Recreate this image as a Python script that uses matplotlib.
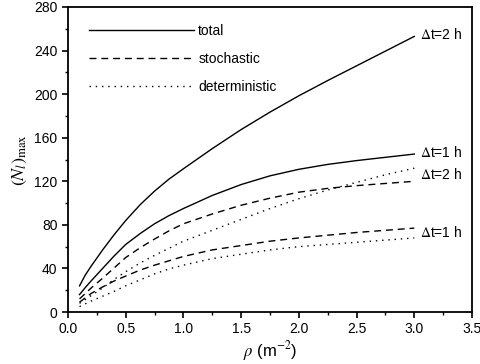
import matplotlib
matplotlib.use('Agg')
import matplotlib.pyplot as plt
from matplotlib.ticker import MultipleLocator, FormatStrFormatter

plt.rcParams['font.family'] = ['Liberation Sans', 'DejaVu Sans']
plt.rcParams['mathtext.fontset'] = 'stix'

# density values
rho = [0.1, 0.15, 0.2, 0.3, 0.4, 0.5, 0.625, 0.75, 0.875, 1.0,
       1.25, 1.5, 1.75, 2.0, 2.25, 2.5, 2.75, 3.0]

total_2h = [24, 34, 42, 57, 71, 84, 98.5, 111, 122, 131.5,
            150, 167.5, 183.5, 198.5, 212.5, 226, 239.5, 253]
total_1h = [16, 22.5, 28.5, 40, 51.5, 62, 72, 81, 88.5, 95,
            107, 117, 125, 131, 135.5, 139, 142, 145]
stoch_2h = [12, 17, 22, 31, 40.5, 50, 59, 67, 74.5, 81,
            90, 98, 104.5, 110, 113.5, 116, 118, 120]
det_2h = [8, 11.5, 15, 22, 30, 37, 45, 52, 58.5, 65,
          75, 85, 95, 104, 112, 119, 126, 132]
stoch_1h = [9, 13, 17, 23, 28.5, 33, 38.5, 43, 47, 51,
            57, 61, 65, 68, 70.5, 73, 75, 77]
det_1h = [5, 7.5, 10, 14.5, 19, 24, 29.5, 35, 39.5, 43,
          49, 53, 57, 60, 62, 64, 66, 68]

end_labels = [(r'$\Delta$t=2 h', 255), (r'$\Delta$t=1 h', 146),
              (r'$\Delta$t=2 h', 126), (r'$\Delta$t=1 h', 73)]

dashed = (0, (5, 3.5))
dotted = (0, (1, 3.5))

fig = plt.figure(figsize=(4.8, 3.64), dpi=100)
ax = fig.add_axes([68/480, 1-312/364, 404/480, 305/364])

ax.plot(rho, total_2h, color='black', lw=1.0, label='total')
ax.plot(rho, stoch_2h, color='black', lw=1.0, ls=dashed, label='stochastic')
ax.plot(rho, det_2h, color='black', lw=1.0, ls=dotted, label='deterministic')
ax.plot(rho, total_1h, color='black', lw=1.0)
ax.plot(rho, stoch_1h, color='black', lw=1.0, ls=dashed)
ax.plot(rho, det_1h, color='black', lw=1.0, ls=dotted)

for txt, yv in end_labels:
    ax.text(3.05, yv, txt, fontsize=10, va='center', ha='left')

ax.set_xlim(0, 3.5)
ax.set_ylim(0, 280)
ax.xaxis.set_major_locator(MultipleLocator(0.5))
ax.xaxis.set_minor_locator(MultipleLocator(0.25))
ax.yaxis.set_major_locator(MultipleLocator(40))
ax.yaxis.set_minor_locator(MultipleLocator(20))
ax.xaxis.set_major_formatter(FormatStrFormatter('%.1f'))
ax.tick_params(which='major', direction='out', length=4, width=1.2, labelsize=10)
ax.tick_params(which='minor', direction='out', length=2.5, width=1.0)
for s in ax.spines.values():
    s.set_linewidth(1.3)

ax.set_xlabel(r'$\rho$ (m$^{-2}$)', fontsize=12, labelpad=2)
ax.set_ylabel(r'$(N_l)_{\mathrm{max}}$', fontsize=13, labelpad=4)

ax.legend(loc='upper left', bbox_to_anchor=(0.02, 0.985), frameon=False,
          fontsize=10, handlelength=7.6, handletextpad=0.3, labelspacing=1.0)

fig.savefig('out.png', dpi=100)
